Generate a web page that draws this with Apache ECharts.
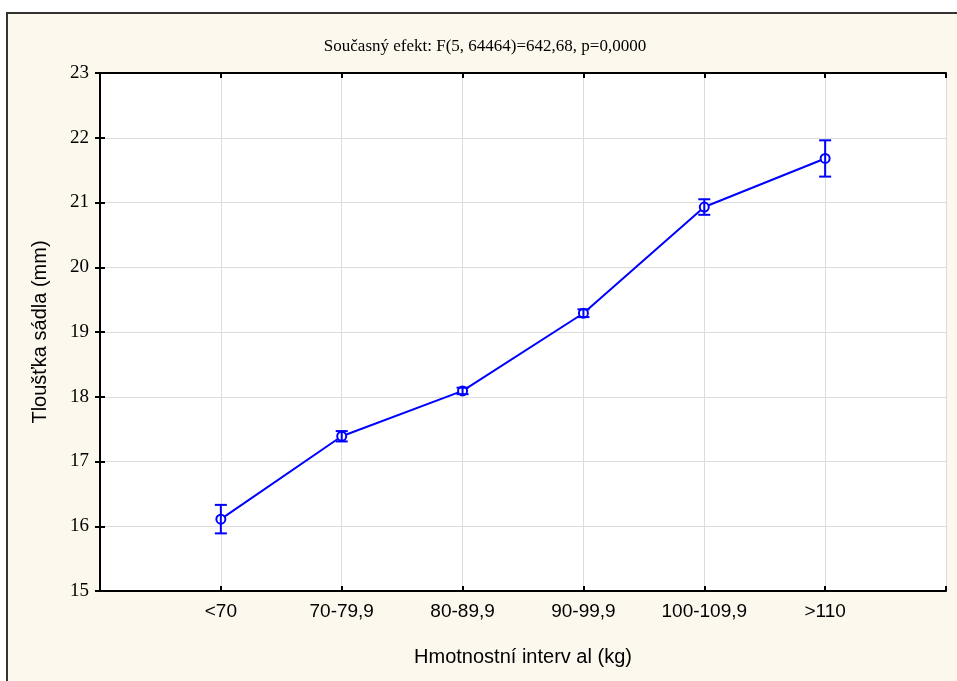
<!DOCTYPE html>
<html>
<head>
<meta charset="utf-8">
<script src="https://cdn.jsdelivr.net/npm/echarts@6/dist/echarts.min.js"></script>
<style>
  html, body { margin: 0; padding: 0; background: #ffffff; }
  #chart { width: 957px; height: 681px; }
</style>
</head>
<body>
<div id="chart"></div>
<script>
// Weight intervals on the x axis
const categories = ['<70', '70-79,9', '80-89,9', '90-99,9', '100-109,9', '>110'];
// Mean fat thickness (mm) per interval
const means = [16.11, 17.39, 18.09, 19.29, 20.93, 21.68];
// Lower / upper confidence limits
const lower = [15.89, 17.31, 18.04, 19.23, 20.81, 21.40];
const upper = [16.33, 17.47, 18.14, 19.35, 21.05, 21.96];
const yTicks = [15, 16, 17, 18, 19, 20, 21, 22, 23];

const blue = '#0000ff';
const serif = '"Liberation Serif", "Times New Roman", serif';
const sans = '"Liberation Sans", Arial, sans-serif';

// positions 1..6 on a 0..7 value axis leave a half-slot margin at each side
const linePoints = means.map((v, i) => [i + 1, v]);
const errPoints = means.map((v, i) => [i + 1, lower[i], upper[i]]);

const chart = echarts.init(document.getElementById('chart'), null, { renderer: 'canvas' });

const option = {
  backgroundColor: '#ffffff',
  animation: false,
  graphic: [{
    type: 'rect',
    z: -10,
    silent: true,
    shape: { x: 7, y: 13, width: 960, height: 680 },
    style: { fill: '#fdf8ee', stroke: '#333', lineWidth: 2 }
  }, {
    type: 'rect',
    z: -9,
    silent: true,
    shape: { x: 100, y: 73, width: 846, height: 518 },
    style: { fill: '#ffffff' }
  }],
  title: {
    text: 'Současný efekt: F(5, 64464)=642,68, p=0,0000',
    left: 480,
    top: 33,
    textAlign: 'center',
    textStyle: { fontFamily: serif, fontSize: 17, fontWeight: 'normal', color: '#000' }
  },
  grid: { left: 100, top: 73, width: 846, height: 518, containLabel: false },
  xAxis: [{
    type: 'value',
    min: 0, max: 7, interval: 1,
    name: 'Hmotnostní interv al (kg)',
    nameLocation: 'middle',
    nameGap: 56,
    nameTextStyle: { fontFamily: sans, fontSize: 20, color: '#000' },
    axisLine: { show: true, lineStyle: { color: '#000', width: 2 } },
    axisTick: { show: true, inside: true, length: 5, lineStyle: { color: '#000', width: 2 } },
    axisLabel: {
      fontFamily: sans, fontSize: 19, color: '#000', margin: 11,
      formatter: v => (v >= 1 && v <= categories.length) ? categories[v - 1] : ''
    },
    splitLine: { show: true, lineStyle: { color: '#dcdcdc', width: 1 } }
  }, {
    type: 'value',
    position: 'top',
    min: 0, max: 7, interval: 1,
    axisLine: { show: true, lineStyle: { color: '#000', width: 2 } },
    axisTick: { show: true, inside: true, length: 5, lineStyle: { color: '#000', width: 2 } },
    axisLabel: { show: false },
    splitLine: { show: false }
  }],
  yAxis: [{
    type: 'value',
    min: yTicks[0], max: yTicks[yTicks.length - 1], interval: 1,
    name: 'Tloušťka sádla (mm)',
    nameLocation: 'middle',
    nameRotate: 90,
    nameGap: 50,
    nameTextStyle: { fontFamily: sans, fontSize: 20, color: '#000' },
    axisLine: { show: true, lineStyle: { color: '#000', width: 2 } },
    axisTick: { show: true, inside: true, length: 5, lineStyle: { color: '#000', width: 2 } },
    axisLabel: { fontFamily: serif, fontSize: 19, color: '#000', margin: 11 },
    splitLine: { show: true, lineStyle: { color: '#dcdcdc', width: 1 } }
  }, {
    type: 'value',
    position: 'right',
    min: yTicks[0], max: yTicks[yTicks.length - 1], interval: 1,
    axisLine: { show: true, lineStyle: { color: '#000', width: 2 } },
    axisTick: { show: true, inside: true, length: 5, lineStyle: { color: '#000', width: 2 } },
    axisLabel: { show: false },
    splitLine: { show: false }
  }],
  series: [{
    type: 'line',
    data: linePoints,
    xAxisIndex: 0, yAxisIndex: 0,
    symbol: 'circle',
    symbolSize: 9,
    itemStyle: { color: '#ffffff', borderColor: blue, borderWidth: 2 },
    lineStyle: { color: blue, width: 2 },
    z: 3
  }, {
    type: 'custom',
    xAxisIndex: 0, yAxisIndex: 0,
    data: errPoints,
    z: 4,
    renderItem: function (params, api) {
      const x = api.value(0);
      const lo = api.coord([x, api.value(1)]);
      const hi = api.coord([x, api.value(2)]);
      const hw = 6;
      const st = { stroke: blue, lineWidth: 2, fill: null };
      return {
        type: 'group',
        children: [
          { type: 'line', shape: { x1: lo[0], y1: lo[1], x2: hi[0], y2: hi[1] }, style: st },
          { type: 'line', shape: { x1: lo[0] - hw, y1: lo[1], x2: lo[0] + hw, y2: lo[1] }, style: st },
          { type: 'line', shape: { x1: hi[0] - hw, y1: hi[1], x2: hi[0] + hw, y2: hi[1] }, style: st }
        ]
      };
    }
  }]
};

chart.setOption(option);
</script>
</body>
</html>
